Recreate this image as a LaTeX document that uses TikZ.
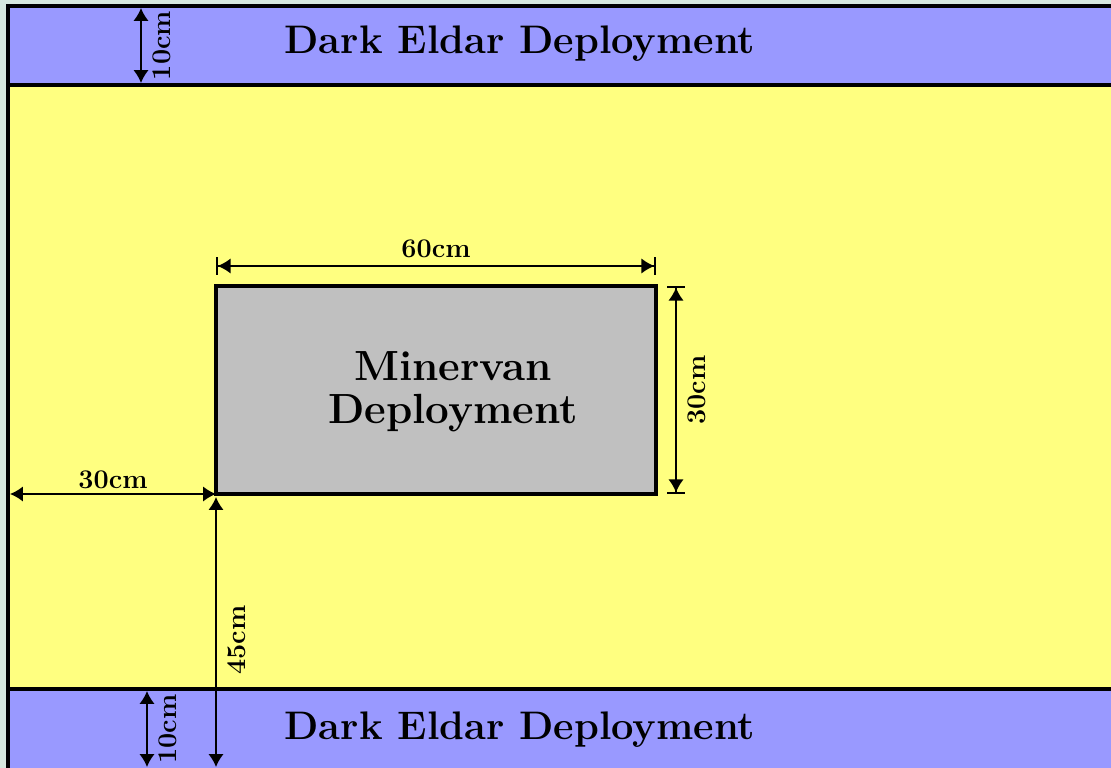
\documentclass[tikz,border=0pt]{standalone}
\usepackage{fontspec}
\usepackage{tikz}
\usetikzlibrary{arrows.meta,positioning,calc}

\definecolor{bandblue}{RGB}{153,153,255}
\definecolor{fieldyellow}{RGB}{255,255,128}
\definecolor{zonegrey}{RGB}{192,192,192}
\definecolor{tablebg}{RGB}{214,232,222}

\begin{document}
\begin{tikzpicture}[x=0.03cm, y=-0.03cm,
band/.style={draw, line width=3pt, fill=bandblue},
field/.style={draw, line width=3pt, fill=fieldyellow},
zone/.style={draw, line width=3pt, fill=zonegrey, inner sep=0pt, outer sep=0pt, minimum width=13.2cm, minimum height=6.24cm},
bandlabel/.style={font=\fontsize{34}{40}\selectfont\bfseries},
zonelabel/.style={align=center, font=\fontsize{36}{37}\selectfont\bfseries},
dimlabel/.style={font=\fontsize{23}{26}\selectfont\bfseries, inner sep=2pt},
dimline/.style={line width=1.4pt, {Latex[length=11pt,width=13pt]}-{Latex[length=11pt,width=13pt]}},
dimbar/.style={line width=1.4pt, {Bar[width=15pt]Latex[length=11pt,width=13pt]}-{Latex[length=11pt,width=13pt]Bar[width=15pt]}}
]
\useasboundingbox (0,0) rectangle (1111,768);
\clip (0,0) rectangle (1111,768);
\fill[tablebg] (0,0) rectangle (1111,768);

% table
\draw[band] (8,6) rectangle (1130,85);
\draw[field] (8,85) rectangle (1130,689);
\draw[band] (8,689) rectangle (1130,790);

\node[bandlabel] (topzone) at (520,44) {Dark Eldar Deployment};
\node[bandlabel] (botzone) at (520,730) {Dark Eldar Deployment};

% minervan zone
\node[zone, anchor=north west] (minervan) at (216,286) {};
\node[zonelabel] (minervanlbl) at ($(minervan.center)+(17,2)$) {Minervan\\Deployment};

% dimensions
\coordinate (w60) at ($(minervan.north west)+(0,-20)$);
\coordinate (e60) at ($(minervan.north east)+(0,-20)$);
\draw[dimbar] (w60) -- (e60) node[dimlabel, midway, above=4pt] (lbl60) {60cm};

\coordinate (n30) at ($(minervan.north east)+(20,0)$);
\coordinate (s30) at ($(minervan.south east)+(20,0)$);
\draw[dimbar] (n30) -- (s30) node[dimlabel, midway, anchor=north, rotate=90, yshift=-7pt] (lbl30v) {30cm};

\coordinate (edge30) at ($(minervan.south west)+(-206,0)$);
\draw[dimline] (edge30) -- (minervan.south west) node[dimlabel, midway, above=2pt] (lbl30h) {30cm};

\coordinate (top45) at ($(minervan.south west)+(0,3)$);
\coordinate (bot45) at (216,767);
\draw[dimline] (top45) -- (bot45) node[dimlabel, pos=0.53, anchor=north, rotate=90, yshift=-7pt] (lbl45) {45cm};

\coordinate (topa) at (141,8);
\coordinate (topb) at (141,83);
\draw[dimline] (topa) -- (topb) node[dimlabel, midway, anchor=north, rotate=90, yshift=-7pt] (lbl10t) {10cm};

\coordinate (bota) at (147,691);
\coordinate (botb) at (147,767);
\draw[dimline] (bota) -- (botb) node[dimlabel, midway, anchor=north, rotate=90, yshift=-7pt] (lbl10b) {10cm};
\end{tikzpicture}
\end{document}
